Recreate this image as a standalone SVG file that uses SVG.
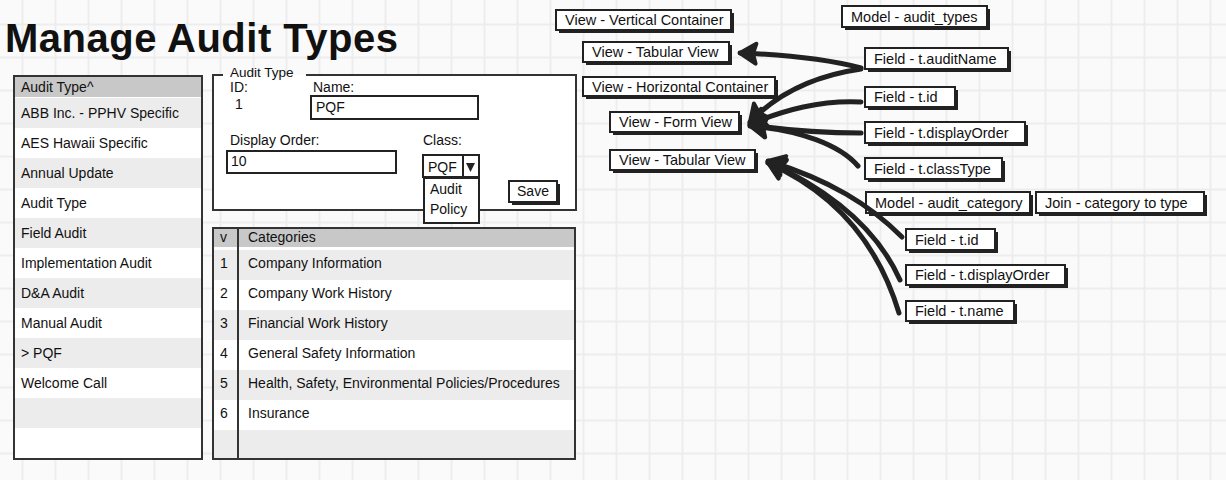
<svg xmlns="http://www.w3.org/2000/svg" width="1226" height="480" viewBox="0 0 1226 480">
<defs>
<pattern id="grid" x="21.5" y="23.5" width="33" height="33" patternUnits="userSpaceOnUse">
<rect width="33" height="33" fill="#fafafa"/>
<rect width="2" height="33" fill="#ededed"/>
<rect width="33" height="2" fill="#ededed"/>
</pattern>
<marker id="ah" viewBox="-22 -14 26 28" refX="0" refY="0" markerWidth="26" markerHeight="28" markerUnits="userSpaceOnUse" orient="auto">
<path d="M0,0 L-16,-10 L-13,0 L-16,10 Z" fill="#222" stroke="#222" stroke-width="4" stroke-linejoin="round"/>
</marker>
<style>
text{font-family:"Comic Sans MS","Liberation Sans",Arial,sans-serif;fill:#111;}
.t{font-size:14px;}
.lg{font-size:13.5px;}
.a{font-size:14.5px;}
.title{font-size:40px;font-weight:bold;}
.panel{fill:#fff;stroke:#333;stroke-width:2;}
.hdr{fill:#c8c8c8;}
.alt{fill:#ececec;}
.inp{fill:#fff;stroke:#222;stroke-width:2;}
.box{fill:#fff;stroke:#222;stroke-width:2;}
.sh{fill:#222;}
.conn{fill:none;stroke:#222;stroke-width:5;stroke-linecap:round;marker-end:url(#ah);}
</style>
</defs>
<rect width="1226" height="480" fill="url(#grid)"/>

<text class="title" x="5" y="52" textLength="393">Manage Audit Types</text>

<g id="audit-type-list">
<rect class="panel" x="14" y="76" width="188" height="383"/>
<rect class="hdr" x="15" y="77" width="186" height="20"/>
<rect class="alt" x="15" y="98" width="186" height="30"/>
<rect class="alt" x="15" y="158" width="186" height="30"/>
<rect class="alt" x="15" y="218" width="186" height="30"/>
<rect class="alt" x="15" y="278" width="186" height="30"/>
<rect class="alt" x="15" y="338" width="186" height="30"/>
<rect class="alt" x="15" y="398" width="186" height="30"/>
<text class="t" x="21" y="92">Audit Type^</text>
<text class="t" x="21" y="118">ABB Inc. - PPHV Specific</text>
<text class="t" x="21" y="148">AES Hawaii Specific</text>
<text class="t" x="21" y="178">Annual Update</text>
<text class="t" x="21" y="208">Audit Type</text>
<text class="t" x="21" y="238">Field Audit</text>
<text class="t" x="21" y="268">Implementation Audit</text>
<text class="t" x="21" y="298">D&amp;A Audit</text>
<text class="t" x="21" y="328">Manual Audit</text>
<text class="t" x="21" y="358">&gt; PQF</text>
<text class="t" x="21" y="388">Welcome Call</text>
</g>

<g id="audit-type-form">
<rect x="213" y="75" width="363" height="135" fill="#fff"/>
<path d="M223,75 L213,75 L213,210 L576,210 L576,75 L306,75" fill="none" stroke="#333" stroke-width="2"/>
<text class="lg" x="230" y="77">Audit Type</text>
<text class="t" x="230" y="92">ID:</text>
<text class="t" x="313" y="92">Name:</text>
<text class="t" x="235" y="109">1</text>
<rect class="inp" x="311" y="96" width="167" height="23"/>
<text class="t" x="316" y="112">PQF</text>
<text class="t" x="230" y="145">Display Order:</text>
<rect class="inp" x="227" y="151" width="169" height="22"/>
<text class="t" x="231" y="166">10</text>
<text class="t" x="423" y="145">Class:</text>
<rect class="inp" x="424" y="178" width="55" height="45"/>
<text class="t" x="430" y="194">Audit</text>
<text class="t" x="430" y="214">Policy</text>
<rect class="inp" x="423" y="155" width="56" height="22"/>
<line x1="463" y1="155" x2="463" y2="177" stroke="#222" stroke-width="2"/>
<text class="t" x="428" y="172">PQF</text>
<polygon points="466,163 475,163 470.5,172" fill="#222"/>
<rect class="sh" x="512" y="184" width="48" height="21"/>
<rect class="box" x="509" y="181" width="48" height="21"/>
<text class="t" x="533" y="196" text-anchor="middle">Save</text>
</g>

<g id="categories-table">
<rect class="panel" x="213" y="228" width="362" height="231"/>
<rect class="hdr" x="214" y="229" width="360" height="18"/>
<rect class="alt" x="214" y="250" width="360" height="30"/>
<rect class="alt" x="214" y="310" width="360" height="30"/>
<rect class="alt" x="214" y="370" width="360" height="30"/>
<rect class="alt" x="214" y="430" width="360" height="28"/>
<line x1="238" y1="228" x2="238" y2="460" stroke="#333" stroke-width="2"/>
<text class="t" x="220" y="242">v</text>
<text class="t" x="248" y="242">Categories</text>
<text class="t" x="220" y="268">1</text>
<text class="t" x="248" y="268">Company Information</text>
<text class="t" x="220" y="298">2</text>
<text class="t" x="248" y="298">Company Work History</text>
<text class="t" x="220" y="328">3</text>
<text class="t" x="248" y="328">Financial Work History</text>
<text class="t" x="220" y="358">4</text>
<text class="t" x="248" y="358">General Safety Information</text>
<text class="t" x="220" y="388">5</text>
<text class="t" x="248" y="388">Health, Safety, Environmental Policies/Procedures</text>
<text class="t" x="220" y="418">6</text>
<text class="t" x="248" y="418">Insurance</text>
</g>

<g id="view-vertical-container"><rect class="sh" x="559" y="13" width="175" height="20"/><rect class="box" x="556" y="10" width="175" height="20"/><text class="a" x="565" y="25">View - Vertical Container</text></g>
<g id="view-tabular-view-1"><rect class="sh" x="586" y="45" width="146" height="20"/><rect class="box" x="583" y="42" width="146" height="20"/><text class="a" x="592" y="57">View - Tabular View</text></g>
<g id="view-horizontal-container"><rect class="sh" x="586" y="80" width="192" height="19"/><rect class="box" x="583" y="77" width="192" height="19"/><text class="a" x="592" y="92">View - Horizontal Container</text></g>
<g id="view-form-view"><rect class="sh" x="613" y="115" width="129" height="20"/><rect class="box" x="610" y="112" width="129" height="20"/><text class="a" x="619" y="127">View - Form View</text></g>
<g id="view-tabular-view-2"><rect class="sh" x="613" y="153" width="145" height="20"/><rect class="box" x="610" y="150" width="145" height="20"/><text class="a" x="619" y="165">View - Tabular View</text></g>

<g id="model-audit-types"><rect class="sh" x="845" y="9" width="145" height="21"/><rect class="box" x="842" y="6" width="145" height="21"/><text class="a" x="851" y="22">Model - audit_types</text></g>
<g id="field-auditname"><rect class="sh" x="868" y="51" width="143" height="21"/><rect class="box" x="865" y="48" width="143" height="21"/><text class="a" x="874" y="64">Field - t.auditName</text></g>
<g id="field-id"><rect class="sh" x="868" y="90" width="90" height="20"/><rect class="box" x="865" y="87" width="90" height="20"/><text class="a" x="874" y="102">Field - t.id</text></g>
<g id="field-displayorder"><rect class="sh" x="868" y="125" width="160" height="21"/><rect class="box" x="865" y="122" width="160" height="21"/><text class="a" x="874" y="138">Field - t.displayOrder</text></g>
<g id="field-classtype"><rect class="sh" x="868" y="161" width="137" height="21"/><rect class="box" x="865" y="158" width="137" height="21"/><text class="a" x="874" y="174">Field - t.classType</text></g>
<g id="model-audit-category"><rect class="sh" x="869" y="195" width="164" height="21"/><rect class="box" x="866" y="192" width="164" height="21"/><text class="a" x="875" y="208">Model - audit_category</text></g>
<g id="join-category-to-type"><rect class="sh" x="1039" y="195" width="168" height="21"/><rect class="box" x="1036" y="192" width="168" height="21"/><text class="a" x="1045" y="208">Join - category to type</text></g>
<g id="field-id-2"><rect class="sh" x="909" y="232" width="89" height="21"/><rect class="box" x="906" y="229" width="89" height="21"/><text class="a" x="915" y="245">Field - t.id</text></g>
<g id="field-displayorder-2"><rect class="sh" x="909" y="268" width="159" height="20"/><rect class="box" x="906" y="265" width="159" height="20"/><text class="a" x="915" y="280">Field - t.displayOrder</text></g>
<g id="field-name"><rect class="sh" x="909" y="304" width="108" height="20"/><rect class="box" x="906" y="301" width="108" height="20"/><text class="a" x="915" y="316">Field - t.name</text></g>

<g id="connectors">
<path class="conn" d="M861,68 C830,60 790,55 740,53"/>
<path class="conn" d="M861,69 C812,76 776,95 750,122"/>
<path class="conn" d="M861,102 C820,100 785,110 750,124"/>
<path class="conn" d="M861,133 C820,133 785,130 750,125"/>
<path class="conn" d="M858,166 C840,145 800,130 750,126"/>
<path class="conn" d="M902,237 C870,205 830,180 768,161"/>
<path class="conn" d="M900,280 C880,235 840,195 768,162"/>
<path class="conn" d="M899,313 C880,250 840,195 768,163"/>
</g>
</svg>
